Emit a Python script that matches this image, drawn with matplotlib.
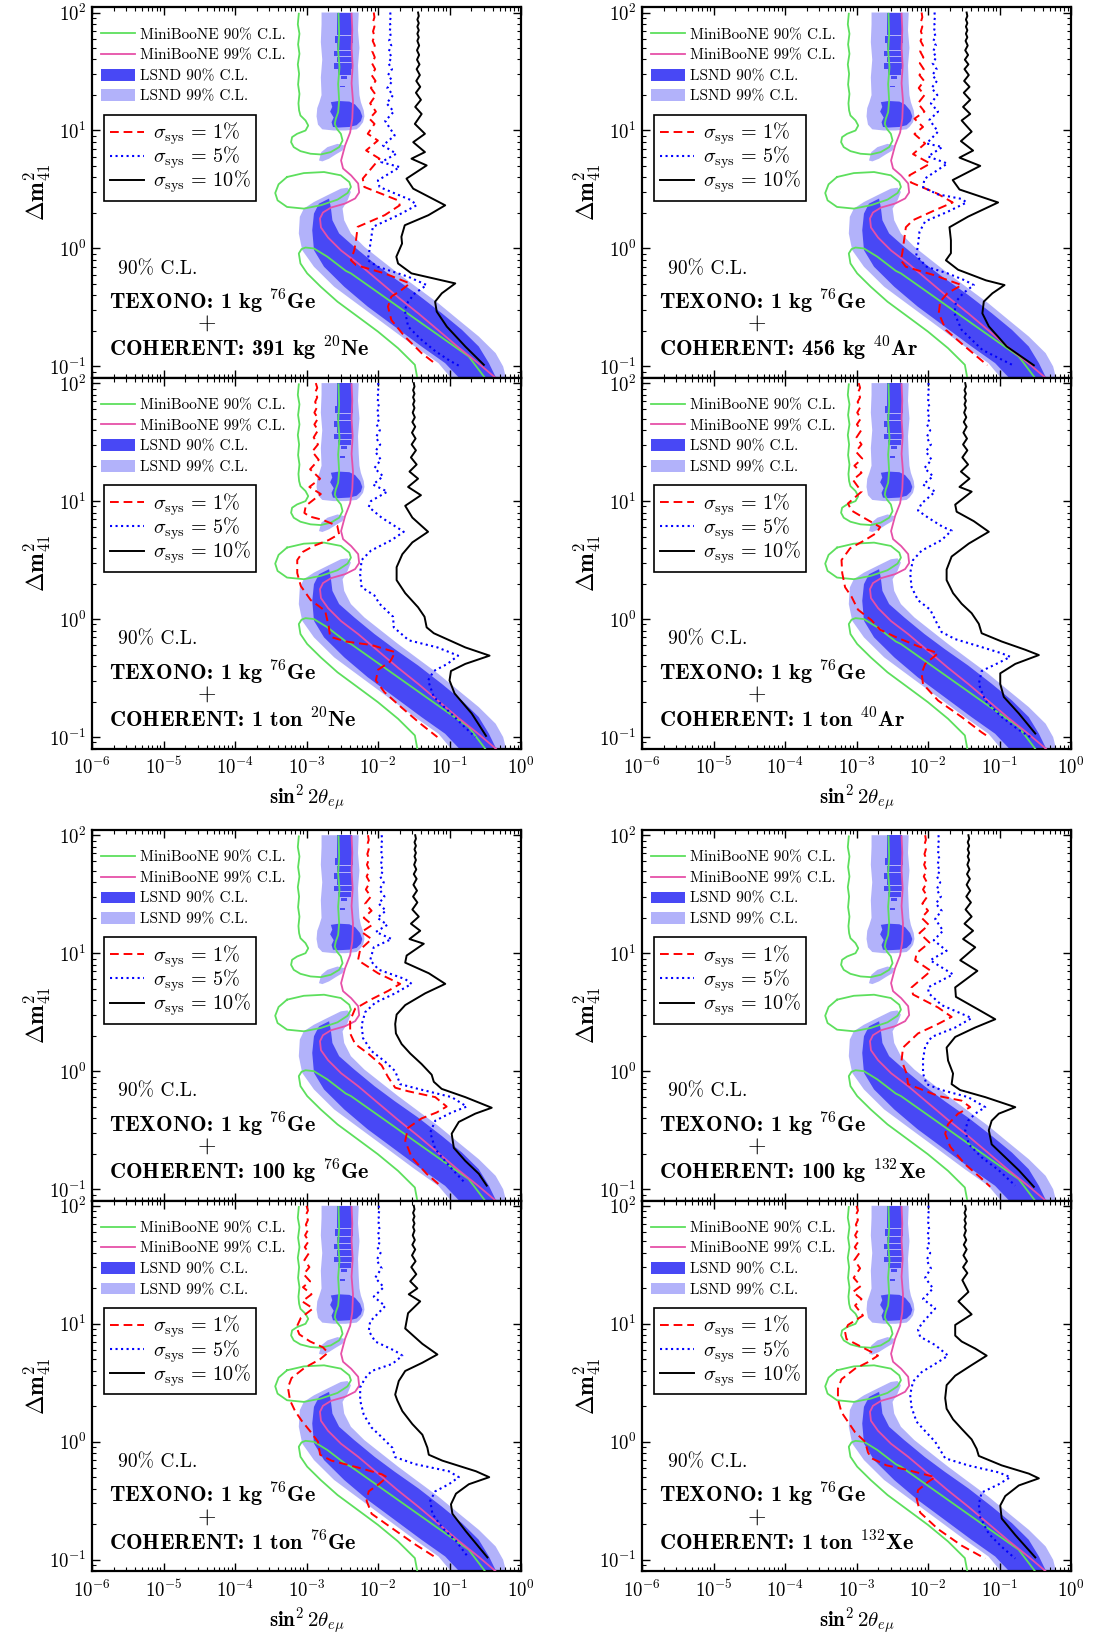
import numpy as np
import matplotlib.pyplot as plt
from matplotlib.lines import Line2D
from matplotlib.patches import Patch
from matplotlib.ticker import LogLocator, NullFormatter

plt.rcParams['font.family'] = 'cmr10'
plt.rcParams['mathtext.fontset'] = 'cm'
plt.rcParams['axes.unicode_minus'] = False
plt.rcParams['axes.formatter.use_mathtext'] = True

# All contours are given as (log10 sin^2 2theta, log10 dm^2) pairs.

# MiniBooNE 90% C.L. contour pieces
mb90_upper = [(-3.108, 1.99), (-3.122, 1.90), (-3.099, 1.82), (-3.118, 1.73), (-3.099, 1.65),
              (-3.122, 1.56), (-3.104, 1.48), (-3.118, 1.39), (-3.099, 1.31), (-3.113, 1.23),
              (-3.104, 1.17), (-3.085, 1.127), (-3.014, 1.085), (-2.976, 1.042), (-3.014, 1.0),
              (-3.132, 0.972), (-3.202, 0.944), (-3.216, 0.901), (-3.179, 0.859), (-3.085, 0.825),
              (-2.944, 0.803), (-2.802, 0.797), (-2.661, 0.817), (-2.544, 0.859), (-2.496, 0.915),
              (-2.520, 0.972), (-2.576, 1.014), (-2.605, 1.056), (-2.591, 1.099), (-2.558, 1.155),
              (-2.544, 1.254), (-2.558, 1.394), (-2.539, 1.535), (-2.558, 1.676), (-2.544, 1.817),
              (-2.553, 1.99)]
mb90_ellipse = [(-3.273, 0.606), (-3.038, 0.639), (-2.755, 0.648), (-2.520, 0.620), (-2.402, 0.563),
                (-2.379, 0.521), (-2.426, 0.470), (-2.567, 0.414), (-2.802, 0.366), (-3.038, 0.338),
                (-3.273, 0.352), (-3.405, 0.408), (-3.438, 0.470), (-3.391, 0.544), (-3.273, 0.606)]
mb90_lower = [(-1.45, -1.10), (-1.485, -0.986), (-1.720, -0.845), (-2.002, -0.704), (-2.285, -0.577),
              (-2.567, -0.451), (-2.802, -0.324), (-2.991, -0.211), (-3.085, -0.127), (-3.108, -0.042),
              (-3.07, -0.005), (-3.014, 0.008), (-2.896, 0.0), (-2.708, -0.070), (-2.45, -0.19),
              (-2.379, -0.211), (-2.049, -0.352), (-1.720, -0.493), (-1.391, -0.634), (-1.061, -0.775),
              (-0.732, -0.915), (-0.50, -1.10)]

# MiniBooNE 99% C.L. contour
mb99 = [(-2.37, 1.99), (-2.36, 1.85), (-2.37, 1.70), (-2.355, 1.55), (-2.37, 1.40), (-2.35, 1.25),
        (-2.36, 1.10), (-2.39, 0.983), (-2.461, 0.873), (-2.517, 0.746), (-2.489, 0.678),
        (-2.376, 0.619), (-2.278, 0.551), (-2.264, 0.475), (-2.320, 0.424), (-2.461, 0.381),
        (-2.657, 0.347), (-2.770, 0.305), (-2.812, 0.254), (-2.798, 0.178), (-2.699, 0.093),
        (-2.517, -0.017), (-2.278, -0.127), (-1.997, -0.271), (-1.716, -0.415), (-1.435, -0.551),
        (-1.154, -0.695), (-0.874, -0.839), (-0.593, -0.975), (-0.35, -1.10)]

# LSND allowed regions
lsnd99_upper = [(-2.79, 2.0), (-2.27, 2.0), (-2.28, 1.85), (-2.26, 1.7), (-2.28, 1.55), (-2.27, 1.4),
                (-2.26, 1.3), (-2.24, 1.24), (-2.20, 1.17), (-2.19, 1.12), (-2.21, 1.07), (-2.26, 1.03),
                (-2.30, 1.01), (-2.45, 1.0), (-2.62, 1.0), (-2.78, 1.01), (-2.84, 1.05), (-2.86, 1.12),
                (-2.85, 1.19), (-2.82, 1.24), (-2.79, 1.3), (-2.80, 1.45), (-2.78, 1.6), (-2.80, 1.75),
                (-2.79, 1.9)]
lsnd99_island = [(-2.826, 0.746), (-2.793, 0.817), (-2.708, 0.859), (-2.567, 0.887), (-2.473, 0.873),
                 (-2.496, 0.831), (-2.591, 0.797), (-2.685, 0.761), (-2.779, 0.738)]
lsnd99_lower = [(-2.426, 0.515), (-2.379, 0.479), (-2.426, 0.408), (-2.496, 0.338), (-2.473, 0.239),
                (-2.379, 0.127), (-2.191, 0.014), (-1.955, -0.099), (-1.720, -0.211), (-1.438, -0.338),
                (-1.155, -0.465), (-0.873, -0.606), (-0.591, -0.746), (-0.355, -0.887), (-0.25, -1.0),
                (-0.20, -1.12), (-0.95, -1.12), (-1.155, -0.972), (-1.485, -0.831), (-1.861, -0.662),
                (-2.238, -0.493), (-2.614, -0.324), (-2.896, -0.155), (-3.061, -0.014), (-3.108, 0.127),
                (-3.094, 0.268), (-3.038, 0.338), (-2.896, 0.394), (-2.708, 0.451), (-2.520, 0.507)]
lsnd90_block = [(-2.66, 1.24), (-2.55, 1.25), (-2.40, 1.245), (-2.32, 1.22), (-2.25, 1.17), (-2.22, 1.12),
                (-2.24, 1.08), (-2.30, 1.045), (-2.40, 1.03), (-2.55, 1.025), (-2.63, 1.03), (-2.65, 1.07),
                (-2.62, 1.11), (-2.67, 1.16), (-2.64, 1.20)]
# striped part of the upper 90% region: (log dm2 low, log dm2 high, log s2 left, log s2 right)
lsnd90_bars = [(1.81, 2.00, -2.57, -2.37), (1.745, 1.803, -2.60, -2.35), (1.685, 1.738, -2.58, -2.36),
               (1.632, 1.678, -2.62, -2.36), (1.577, 1.625, -2.57, -2.37), (1.524, 1.570, -2.61, -2.35),
               (1.474, 1.517, -2.56, -2.38), (1.44, 1.466, -2.52, -2.44), (1.365, 1.38, -2.53, -2.46)]
lsnd90_lower = [(-2.685, 0.423), (-2.661, 0.352), (-2.638, 0.239), (-2.544, 0.127), (-2.332, 0.014),
                (-2.049, -0.127), (-1.767, -0.254), (-1.438, -0.394), (-1.108, -0.549), (-0.826, -0.690),
                (-0.591, -0.831), (-0.449, -0.972), (-0.33, -1.12), (-0.83, -1.12), (-1.061, -0.972),
                (-1.391, -0.831), (-1.767, -0.662), (-2.144, -0.493), (-2.473, -0.324), (-2.755, -0.155),
                (-2.896, -0.014), (-2.920, 0.155), (-2.896, 0.296), (-2.826, 0.380)]

# Sensitivity curves, sigma_sys = 1%, 5%, 10%
ne391_sys1 = [(-2.06, 2.0), (-2.05, 1.96), (-2.07, 1.92), (-2.05, 1.88), (-2.07, 1.84), (-2.05, 1.80),
              (-2.075, 1.76), (-2.045, 1.72), (-2.08, 1.67), (-2.045, 1.62), (-2.085, 1.57), (-2.04, 1.52),
              (-2.09, 1.47), (-2.035, 1.42), (-2.10, 1.36), (-2.03, 1.30), (-2.11, 1.23), (-2.03, 1.16),
              (-2.12, 1.10), (-2.049, 1.056), (-2.144, 0.972), (-2.002, 0.915), (-2.167, 0.831),
              (-1.979, 0.761), (-2.214, 0.592), (-2.191, 0.521), (-1.720, 0.408), (-1.696, 0.366),
              (-1.908, 0.282), (-2.285, 0.183), (-2.308, 0.070), (-2.332, -0.014), (-2.379, -0.099),
              (-2.308, -0.141), (-1.908, -0.211), (-1.555, -0.296), (-1.673, -0.352), (-1.814, -0.408),
              (-1.861, -0.493), (-1.814, -0.606), (-1.626, -0.746), (-1.391, -0.887), (-1.179, -0.986)]
ne391_sys5 = [(-1.83, 2.0), (-1.82, 1.96), (-1.84, 1.92), (-1.82, 1.88), (-1.84, 1.84), (-1.82, 1.80),
              (-1.845, 1.76), (-1.815, 1.72), (-1.85, 1.67), (-1.81, 1.62), (-1.855, 1.57), (-1.805, 1.52),
              (-1.86, 1.47), (-1.80, 1.42), (-1.87, 1.36), (-1.79, 1.30), (-1.88, 1.23), (-1.78, 1.16),
              (-1.90, 1.08), (-1.767, 0.958), (-1.932, 0.873), (-1.744, 0.803), (-1.955, 0.732),
              (-1.696, 0.690), (-2.002, 0.577), (-1.979, 0.521), (-1.532, 0.408), (-1.461, 0.366),
              (-1.720, 0.282), (-2.073, 0.183), (-2.096, 0.085), (-2.120, -0.014), (-2.144, -0.099),
              (-2.002, -0.155), (-1.579, -0.239), (-1.320, -0.310), (-1.485, -0.380), (-1.579, -0.451),
              (-1.626, -0.521), (-1.579, -0.662), (-1.40, -0.77), (-1.20, -0.87), (-1.0, -0.95),
              (-0.85, -1.0)]
ne391_sys10 = [(-1.44, 2.0), (-1.43, 1.97), (-1.45, 1.94), (-1.43, 1.91), (-1.45, 1.88), (-1.43, 1.85),
               (-1.45, 1.82), (-1.43, 1.79), (-1.45, 1.76), (-1.425, 1.72), (-1.455, 1.68), (-1.425, 1.64),
               (-1.455, 1.60), (-1.42, 1.56), (-1.46, 1.52), (-1.415, 1.47), (-1.465, 1.42), (-1.41, 1.37),
               (-1.47, 1.32), (-1.40, 1.26), (-1.48, 1.20), (-1.39, 1.14), (-1.485, 1.056),
               (-1.344, 0.972), (-1.508, 0.901), (-1.344, 0.817), (-1.532, 0.761), (-1.320, 0.704),
               (-1.602, 0.592), (-1.508, 0.507), (-1.061, 0.366), (-1.296, 0.282), (-1.626, 0.197),
               (-1.673, 0.099), (-1.664, 0.042), (-1.744, -0.070), (-1.720, -0.127), (-1.532, -0.211),
               (-0.920, -0.296), (-1.108, -0.380), (-1.202, -0.451), (-1.179, -0.535), (-1.038, -0.662),
               (-0.779, -0.831), (-0.520, -0.986)]

ar456_sys1 = [(-2.09, 2.0), (-2.08, 1.96), (-2.10, 1.92), (-2.08, 1.88), (-2.10, 1.84), (-2.075, 1.80),
              (-2.105, 1.76), (-2.07, 1.72), (-2.11, 1.67), (-2.065, 1.62), (-2.115, 1.57), (-2.06, 1.52),
              (-2.12, 1.47), (-2.055, 1.42), (-2.13, 1.36), (-2.05, 1.30), (-2.14, 1.23), (-2.05, 1.16),
              (-2.19, 1.10), (-2.07, 1.03), (-2.19, 0.97), (-2.04, 0.89), (-2.21, 0.80), (-1.97, 0.72),
              (-2.26, 0.62), (-2.24, 0.56), (-1.87, 0.465), (-1.655, 0.39), (-1.92, 0.32), (-2.21, 0.24),
              (-2.31, 0.18), (-2.335, 0.07), (-2.36, -0.04), (-2.38, -0.10), (-2.31, -0.155),
              (-1.92, -0.225), (-1.53, -0.31), (-1.73, -0.38), (-1.83, -0.45), (-1.85, -0.55),
              (-1.75, -0.69), (-1.485, -0.83), (-1.17, -0.99)]
ar456_sys5 = [(-1.91, 2.0), (-1.90, 1.96), (-1.92, 1.92), (-1.90, 1.88), (-1.92, 1.84), (-1.895, 1.80),
              (-1.925, 1.76), (-1.89, 1.72), (-1.93, 1.67), (-1.885, 1.62), (-1.935, 1.57), (-1.88, 1.52),
              (-1.94, 1.47), (-1.875, 1.42), (-1.95, 1.36), (-1.87, 1.30), (-1.96, 1.23), (-1.86, 1.16),
              (-1.98, 1.09), (-1.86, 0.99), (-2.02, 0.89), (-1.80, 0.86), (-2.0, 0.78), (-1.73, 0.72),
              (-2.05, 0.59), (-2.07, 0.52), (-1.87, 0.46), (-1.53, 0.42), (-1.46, 0.39), (-1.73, 0.31),
              (-2.04, 0.23), (-2.12, 0.14), (-2.14, 0.03), (-2.165, -0.06), (-2.02, -0.155),
              (-1.73, -0.21), (-1.485, -0.27), (-1.36, -0.31), (-1.51, -0.38), (-1.61, -0.45),
              (-1.63, -0.55), (-1.53, -0.69), (-1.24, -0.86), (-0.81, -0.99)]
ar456_sys10 = [(-1.46, 2.0), (-1.45, 1.97), (-1.47, 1.94), (-1.45, 1.91), (-1.47, 1.88), (-1.45, 1.85),
               (-1.47, 1.82), (-1.45, 1.79), (-1.475, 1.76), (-1.445, 1.72), (-1.48, 1.68), (-1.44, 1.64),
               (-1.485, 1.60), (-1.435, 1.56), (-1.49, 1.52), (-1.43, 1.47), (-1.495, 1.42), (-1.42, 1.37),
               (-1.50, 1.32), (-1.41, 1.26), (-1.51, 1.20), (-1.41, 1.14), (-1.53, 1.085), (-1.39, 0.99),
               (-1.54, 0.91), (-1.37, 0.83), (-1.56, 0.77), (-1.27, 0.70), (-1.655, 0.58), (-1.56, 0.50),
               (-1.02, 0.39), (-1.44, 0.27), (-1.70, 0.18), (-1.68, 0.07), (-1.68, -0.04), (-1.75, -0.10),
               (-1.58, -0.18), (-1.19, -0.27), (-0.93, -0.31), (-1.10, -0.38), (-1.22, -0.45),
               (-1.24, -0.55), (-1.15, -0.66), (-0.90, -0.83), (-0.52, -0.99)]

ne1t_sys1 = [(-2.87, 2.0), (-2.85, 1.96), (-2.88, 1.92), (-2.85, 1.88), (-2.88, 1.84), (-2.85, 1.80),
             (-2.89, 1.75), (-2.84, 1.70), (-2.89, 1.65), (-2.84, 1.60), (-2.90, 1.54), (-2.84, 1.48),
             (-2.92, 1.42), (-2.83, 1.35), (-2.95, 1.27), (-2.81, 1.19), (-2.96, 1.12), (-2.80, 1.06),
             (-3.01, 0.96), (-3.03, 0.90), (-2.96, 0.87), (-2.77, 0.84), (-2.57, 0.79), (-2.545, 0.72),
             (-2.69, 0.67), (-2.90, 0.62), (-3.05, 0.57), (-3.13, 0.50), (-3.13, 0.39), (-3.08, 0.28),
             (-3.01, 0.22), (-2.94, 0.16), (-2.74, 0.07), (-2.69, -0.06), (-2.67, -0.15), (-2.45, -0.19),
             (-2.09, -0.22), (-1.76, -0.28), (-1.83, -0.36), (-2.0, -0.43), (-2.03, -0.52),
             (-1.91, -0.62), (-1.67, -0.75), (-1.42, -0.88), (-1.17, -1.0)]
ne1t_sys5 = [(-2.0, 2.0), (-1.99, 1.96), (-2.01, 1.92), (-1.99, 1.88), (-2.01, 1.84), (-1.985, 1.80),
             (-2.015, 1.75), (-1.98, 1.70), (-2.02, 1.65), (-1.975, 1.60), (-2.03, 1.54), (-1.97, 1.48),
             (-2.04, 1.42), (-1.96, 1.35), (-2.05, 1.28), (-1.93, 1.21), (-2.07, 1.14), (-1.87, 1.08),
             (-2.10, 1.0), (-2.13, 0.95), (-1.95, 0.86), (-1.64, 0.74), (-1.81, 0.67), (-2.10, 0.58),
             (-2.23, 0.50), (-2.25, 0.38), (-2.23, 0.27), (-2.05, 0.20), (-1.98, 0.13), (-1.79, 0.02),
             (-1.78, -0.07), (-1.57, -0.18), (-1.17, -0.24), (-0.88, -0.31), (-1.03, -0.38),
             (-1.22, -0.44), (-1.30, -0.52), (-1.22, -0.66), (-0.98, -0.80), (-0.78, -0.92),
             (-0.64, -1.0)]
ne1t_sys10 = [(-1.50, 2.0), (-1.49, 1.97), (-1.51, 1.94), (-1.49, 1.91), (-1.51, 1.88), (-1.49, 1.85),
              (-1.51, 1.82), (-1.49, 1.79), (-1.515, 1.75), (-1.485, 1.71), (-1.52, 1.67), (-1.48, 1.63),
              (-1.525, 1.58), (-1.475, 1.53), (-1.53, 1.48), (-1.47, 1.43), (-1.54, 1.37), (-1.46, 1.31),
              (-1.56, 1.25), (-1.44, 1.19), (-1.58, 1.12), (-1.40, 1.05), (-1.62, 0.96), (-1.52, 0.86),
              (-1.30, 0.74), (-1.52, 0.65), (-1.66, 0.55), (-1.74, 0.44), (-1.74, 0.33), (-1.62, 0.22),
              (-1.44, 0.10), (-1.35, 0.02), (-1.32, -0.07), (-1.22, -0.12), (-0.78, -0.24),
              (-0.44, -0.31), (-0.78, -0.38), (-0.98, -0.44), (-1.0, -0.52), (-0.93, -0.63),
              (-0.69, -0.80), (-0.49, -0.99)]

ar1t_sys1 = [(-2.97, 2.0), (-2.95, 1.96), (-2.98, 1.92), (-2.95, 1.88), (-2.985, 1.84), (-2.945, 1.80),
             (-2.99, 1.75), (-2.94, 1.70), (-2.995, 1.65), (-2.935, 1.60), (-3.0, 1.54), (-2.93, 1.48),
             (-3.01, 1.42), (-2.92, 1.36), (-3.03, 1.30), (-2.93, 1.24), (-3.05, 1.18), (-2.93, 1.08),
             (-3.12, 0.98), (-3.07, 0.92), (-2.93, 0.87), (-2.67, 0.78), (-2.72, 0.73), (-2.88, 0.67),
             (-3.09, 0.60), (-3.21, 0.50), (-3.20, 0.39), (-3.16, 0.27), (-3.07, 0.19), (-2.98, 0.08),
             (-2.79, -0.01), (-2.67, -0.09), (-2.46, -0.15), (-2.14, -0.23), (-1.86, -0.29),
             (-2.04, -0.38), (-2.09, -0.46), (-2.07, -0.55), (-1.86, -0.69), (-1.53, -0.83),
             (-1.25, -0.96), (-1.15, -1.0)]
ar1t_sys5 = [(-1.995, 2.0), (-1.985, 1.96), (-2.005, 1.92), (-1.985, 1.88), (-2.005, 1.84), (-1.98, 1.80),
             (-2.01, 1.75), (-1.975, 1.70), (-2.015, 1.65), (-1.97, 1.60), (-2.02, 1.54), (-1.96, 1.48),
             (-2.03, 1.42), (-1.95, 1.35), (-2.05, 1.28), (-1.93, 1.21), (-2.07, 1.14), (-1.90, 1.08),
             (-2.09, 0.98), (-2.14, 0.92), (-2.0, 0.86), (-1.79, 0.78), (-1.67, 0.75), (-1.81, 0.67),
             (-2.09, 0.58), (-2.21, 0.50), (-2.25, 0.39), (-2.23, 0.27), (-2.14, 0.16), (-1.97, 0.08),
             (-1.88, -0.03), (-1.81, -0.11), (-1.62, -0.17), (-1.29, -0.23), (-0.97, -0.29),
             (-0.85, -0.32), (-1.01, -0.37), (-1.25, -0.44), (-1.29, -0.55), (-1.20, -0.69),
             (-0.97, -0.83), (-0.73, -0.94), (-0.57, -1.0)]
ar1t_sys10 = [(-1.48, 2.0), (-1.47, 1.97), (-1.49, 1.94), (-1.47, 1.91), (-1.49, 1.88), (-1.47, 1.85),
              (-1.49, 1.82), (-1.47, 1.79), (-1.495, 1.75), (-1.465, 1.71), (-1.50, 1.67), (-1.46, 1.63),
              (-1.505, 1.58), (-1.455, 1.53), (-1.51, 1.48), (-1.45, 1.43), (-1.52, 1.37), (-1.44, 1.31),
              (-1.54, 1.25), (-1.42, 1.19), (-1.56, 1.12), (-1.39, 1.08), (-1.62, 0.97), (-1.60, 0.91),
              (-1.36, 0.83), (-1.15, 0.74), (-1.43, 0.64), (-1.67, 0.53), (-1.74, 0.42), (-1.74, 0.33),
              (-1.65, 0.22), (-1.53, 0.13), (-1.39, 0.05), (-1.29, -0.04), (-1.25, -0.12),
              (-0.97, -0.19), (-0.64, -0.26), (-0.45, -0.305), (-0.78, -0.38), (-0.99, -0.46),
              (-0.99, -0.55), (-0.94, -0.66), (-0.73, -0.80), (-0.50, -0.97)]

ge100_sys1 = [(-2.14, 2.0), (-2.13, 1.96), (-2.15, 1.92), (-2.13, 1.88), (-2.15, 1.84), (-2.125, 1.80),
              (-2.155, 1.75), (-2.12, 1.70), (-2.16, 1.65), (-2.115, 1.60), (-2.17, 1.54), (-2.10, 1.48),
              (-2.18, 1.42), (-2.09, 1.36), (-2.20, 1.30), (-2.08, 1.24), (-2.23, 1.18), (-2.09, 1.12),
              (-2.25, 1.03), (-2.28, 0.94), (-2.0, 0.83), (-1.69, 0.74), (-1.86, 0.68), (-2.09, 0.61),
              (-2.32, 0.53), (-2.39, 0.43), (-2.39, 0.32), (-2.32, 0.23), (-2.14, 0.15), (-1.95, 0.05),
              (-1.86, -0.05), (-1.76, -0.14), (-1.58, -0.17), (-1.20, -0.22), (-1.04, -0.30),
              (-1.18, -0.35), (-1.39, -0.40), (-1.58, -0.48), (-1.62, -0.59), (-1.53, -0.73),
              (-1.32, -0.87), (-1.11, -0.98)]
ge100_sys5 = [(-1.95, 2.0), (-1.94, 1.96), (-1.96, 1.92), (-1.94, 1.88), (-1.96, 1.84), (-1.935, 1.80),
              (-1.965, 1.75), (-1.93, 1.70), (-1.97, 1.65), (-1.92, 1.60), (-1.98, 1.54), (-1.91, 1.48),
              (-1.99, 1.42), (-1.89, 1.36), (-2.01, 1.30), (-1.87, 1.24), (-2.03, 1.18), (-1.81, 1.12),
              (-2.06, 1.05), (-2.11, 0.94), (-1.99, 0.86), (-1.62, 0.78), (-1.53, 0.74), (-1.76, 0.66),
              (-2.04, 0.58), (-2.18, 0.50), (-2.23, 0.39), (-2.21, 0.28), (-2.09, 0.17), (-1.90, 0.08),
              (-1.76, 0.0), (-1.69, -0.11), (-1.44, -0.15), (-0.97, -0.22), (-0.76, -0.30),
              (-0.97, -0.35), (-1.20, -0.42), (-1.27, -0.52), (-1.20, -0.66), (-1.01, -0.80),
              (-0.78, -0.95)]
ge100_sys10 = [(-1.48, 2.0), (-1.47, 1.97), (-1.49, 1.94), (-1.47, 1.91), (-1.49, 1.88), (-1.47, 1.85),
               (-1.49, 1.82), (-1.47, 1.79), (-1.495, 1.75), (-1.465, 1.71), (-1.50, 1.67), (-1.46, 1.63),
               (-1.505, 1.58), (-1.455, 1.53), (-1.51, 1.48), (-1.45, 1.43), (-1.52, 1.37), (-1.43, 1.31),
               (-1.54, 1.25), (-1.41, 1.19), (-1.56, 1.12), (-1.36, 1.08), (-1.60, 0.98), (-1.62, 0.92),
               (-1.29, 0.83), (-1.06, 0.74), (-1.34, 0.66), (-1.62, 0.56), (-1.74, 0.48), (-1.76, 0.40),
               (-1.75, 0.32), (-1.67, 0.23), (-1.55, 0.15), (-1.39, 0.06), (-1.25, -0.03),
               (-1.22, -0.09), (-1.11, -0.15), (-0.78, -0.22), (-0.41, -0.31), (-0.64, -0.36),
               (-0.87, -0.43), (-0.97, -0.53), (-0.94, -0.65), (-0.78, -0.76), (-0.59, -0.87),
               (-0.48, -0.97)]

xe100_sys1 = [(-2.04, 2.0), (-2.03, 1.96), (-2.05, 1.92), (-2.03, 1.88), (-2.05, 1.84), (-2.025, 1.80),
              (-2.055, 1.75), (-2.02, 1.70), (-2.06, 1.65), (-2.015, 1.60), (-2.07, 1.54), (-2.01, 1.48),
              (-2.08, 1.42), (-2.0, 1.36), (-2.09, 1.30), (-1.99, 1.24), (-2.12, 1.17), (-1.98, 1.09),
              (-2.16, 1.0), (-2.18, 0.94), (-1.96, 0.85), (-2.23, 0.71), (-2.21, 0.65), (-1.86, 0.54),
              (-1.67, 0.46), (-1.86, 0.40), (-2.14, 0.32), (-2.35, 0.20), (-2.37, 0.09), (-2.30, -0.02),
              (-2.28, -0.11), (-1.86, -0.21), (-1.53, -0.25), (-1.41, -0.305), (-1.58, -0.36),
              (-1.72, -0.45), (-1.76, -0.53), (-1.69, -0.64), (-1.48, -0.79), (-1.27, -0.90),
              (-1.13, -0.98)]
xe100_sys5 = [(-1.855, 2.0), (-1.845, 1.96), (-1.865, 1.92), (-1.845, 1.88), (-1.865, 1.84), (-1.84, 1.80),
              (-1.87, 1.75), (-1.835, 1.70), (-1.875, 1.65), (-1.83, 1.60), (-1.88, 1.54), (-1.82, 1.48),
              (-1.89, 1.42), (-1.81, 1.36), (-1.90, 1.29), (-1.79, 1.19), (-1.92, 1.11), (-1.74, 1.02),
              (-1.97, 0.94), (-1.65, 0.82), (-2.0, 0.71), (-1.99, 0.66), (-1.81, 0.56), (-1.39, 0.45),
              (-1.62, 0.37), (-1.95, 0.29), (-2.04, 0.21), (-2.07, 0.10), (-2.07, -0.02), (-2.02, -0.11),
              (-1.81, -0.16), (-1.44, -0.22), (-1.20, -0.305), (-1.34, -0.36), (-1.44, -0.42),
              (-1.48, -0.50), (-1.43, -0.62), (-1.25, -0.73), (-1.01, -0.84), (-0.78, -0.97)]
xe100_sys10 = [(-1.435, 2.0), (-1.425, 1.97), (-1.445, 1.94), (-1.425, 1.91), (-1.445, 1.88),
               (-1.425, 1.85), (-1.445, 1.82), (-1.425, 1.79), (-1.45, 1.75), (-1.42, 1.71),
               (-1.455, 1.67), (-1.415, 1.63), (-1.46, 1.58), (-1.41, 1.53), (-1.465, 1.48), (-1.40, 1.43),
               (-1.475, 1.37), (-1.39, 1.31), (-1.49, 1.25), (-1.37, 1.19), (-1.51, 1.12), (-1.34, 1.05),
               (-1.55, 0.94), (-1.31, 0.85), (-1.62, 0.71), (-1.61, 0.63), (-1.29, 0.52), (-1.06, 0.44),
               (-1.34, 0.37), (-1.62, 0.29), (-1.74, 0.20), (-1.72, 0.09), (-1.65, -0.02),
               (-1.67, -0.11), (-1.55, -0.16), (-1.20, -0.22), (-0.78, -0.305), (-1.01, -0.36),
               (-1.11, -0.42), (-1.15, -0.50), (-1.11, -0.62), (-0.92, -0.73), (-0.73, -0.84),
               (-0.52, -0.98)]

ge1t_sys1 = [(-3.0, 2.0), (-2.98, 1.96), (-3.01, 1.92), (-2.98, 1.88), (-3.01, 1.84), (-2.975, 1.80),
             (-3.02, 1.75), (-2.97, 1.70), (-3.025, 1.65), (-2.965, 1.60), (-3.03, 1.54), (-2.96, 1.48),
             (-3.04, 1.42), (-2.95, 1.36), (-3.05, 1.31), (-2.93, 1.25), (-3.06, 1.19), (-2.91, 1.13),
             (-3.08, 1.05), (-3.14, 0.97), (-3.10, 0.91), (-2.95, 0.85), (-2.77, 0.80), (-2.70, 0.755),
             (-2.81, 0.70), (-3.02, 0.63), (-3.21, 0.54), (-3.26, 0.46), (-3.23, 0.35), (-3.16, 0.26),
             (-3.07, 0.18), (-2.95, 0.09), (-2.84, 0.0), (-2.81, -0.11), (-2.65, -0.16), (-2.27, -0.22),
             (-1.95, -0.275), (-1.875, -0.30), (-1.99, -0.36), (-2.13, -0.42), (-2.16, -0.50),
             (-2.09, -0.61), (-1.81, -0.73), (-1.48, -0.87), (-1.17, -0.99)]
ge1t_sys5 = [(-1.99, 2.0), (-1.98, 1.96), (-2.0, 1.92), (-1.98, 1.88), (-2.0, 1.84), (-1.975, 1.80),
             (-2.005, 1.75), (-1.97, 1.70), (-2.01, 1.65), (-1.965, 1.60), (-2.02, 1.54), (-1.95, 1.47),
             (-2.04, 1.39), (-1.92, 1.31), (-2.06, 1.23), (-1.90, 1.15), (-2.11, 1.02), (-2.13, 0.94),
             (-2.04, 0.85), (-1.76, 0.77), (-1.66, 0.73), (-1.80, 0.66), (-2.09, 0.60), (-2.18, 0.54),
             (-2.25, 0.46), (-2.25, 0.35), (-2.20, 0.23), (-2.09, 0.12), (-1.95, 0.04), (-1.80, -0.05),
             (-1.76, -0.13), (-1.48, -0.19), (-1.01, -0.25), (-0.87, -0.30), (-1.01, -0.36),
             (-1.20, -0.42), (-1.27, -0.50), (-1.24, -0.61), (-1.10, -0.73), (-0.91, -0.84),
             (-0.75, -0.97)]
ge1t_sys10 = [(-1.50, 2.0), (-1.49, 1.97), (-1.51, 1.94), (-1.49, 1.91), (-1.51, 1.88), (-1.49, 1.85),
              (-1.51, 1.82), (-1.49, 1.79), (-1.515, 1.75), (-1.485, 1.71), (-1.52, 1.67), (-1.48, 1.63),
              (-1.525, 1.58), (-1.475, 1.53), (-1.535, 1.48), (-1.465, 1.42), (-1.55, 1.36), (-1.45, 1.30),
              (-1.57, 1.25), (-1.41, 1.19), (-1.58, 1.09), (-1.62, 0.96), (-1.38, 0.83), (-1.17, 0.74),
              (-1.38, 0.67), (-1.62, 0.60), (-1.71, 0.515), (-1.76, 0.40), (-1.73, 0.35), (-1.66, 0.26),
              (-1.52, 0.15), (-1.38, 0.06), (-1.31, -0.05), (-1.29, -0.11), (-1.10, -0.16),
              (-0.63, -0.25), (-0.445, -0.30), (-0.73, -0.36), (-0.91, -0.44), (-0.98, -0.53),
              (-0.96, -0.61), (-0.77, -0.76), (-0.47, -0.98)]

xe1t_sys1 = [(-3.0, 2.0), (-2.98, 1.96), (-3.01, 1.92), (-2.98, 1.88), (-3.01, 1.84), (-2.975, 1.80),
             (-3.02, 1.75), (-2.97, 1.70), (-3.025, 1.65), (-2.96, 1.60), (-3.03, 1.54), (-2.95, 1.47),
             (-3.04, 1.39), (-2.94, 1.32), (-3.05, 1.27), (-2.93, 1.21), (-3.02, 1.155), (-2.91, 1.07),
             (-3.12, 0.99), (-3.16, 0.93), (-3.14, 0.87), (-2.98, 0.82), (-2.79, 0.76), (-2.70, 0.73),
             (-2.84, 0.675), (-3.02, 0.62), (-3.21, 0.53), (-3.26, 0.45), (-3.26, 0.36), (-3.21, 0.25),
             (-3.12, 0.17), (-3.02, 0.08), (-2.88, 0.0), (-2.84, -0.09), (-2.79, -0.14), (-2.58, -0.20),
             (-2.28, -0.24), (-1.90, -0.30), (-2.0, -0.34), (-2.14, -0.41), (-2.16, -0.48),
             (-2.11, -0.60), (-1.86, -0.74), (-1.53, -0.88), (-1.20, -0.99)]
xe1t_sys5 = [(-1.995, 2.0), (-1.985, 1.96), (-2.005, 1.92), (-1.985, 1.88), (-2.005, 1.84), (-1.98, 1.80),
             (-2.01, 1.75), (-1.975, 1.70), (-2.015, 1.65), (-1.97, 1.60), (-2.02, 1.54), (-1.96, 1.47),
             (-2.04, 1.39), (-1.93, 1.30), (-2.07, 1.21), (-1.90, 1.13), (-2.09, 1.0), (-2.14, 0.95),
             (-2.11, 0.89), (-1.90, 0.82), (-1.72, 0.73), (-1.86, 0.675), (-2.09, 0.59), (-2.21, 0.51),
             (-2.25, 0.40), (-2.23, 0.29), (-2.16, 0.17), (-2.04, 0.09), (-1.90, 0.0), (-1.81, -0.09),
             (-1.76, -0.14), (-1.44, -0.20), (-1.01, -0.26), (-0.85, -0.30), (-1.01, -0.36),
             (-1.25, -0.43), (-1.29, -0.53), (-1.27, -0.64), (-1.15, -0.78), (-0.97, -0.89),
             (-0.78, -0.99)]
xe1t_sys10 = [(-1.48, 2.0), (-1.47, 1.97), (-1.49, 1.94), (-1.47, 1.91), (-1.49, 1.88), (-1.47, 1.85),
              (-1.49, 1.82), (-1.47, 1.79), (-1.495, 1.75), (-1.465, 1.71), (-1.50, 1.67), (-1.46, 1.63),
              (-1.505, 1.58), (-1.455, 1.53), (-1.51, 1.48), (-1.45, 1.43), (-1.52, 1.37), (-1.435, 1.27),
              (-1.575, 1.19), (-1.39, 1.08), (-1.62, 0.99), (-1.62, 0.90), (-1.53, 0.85), (-1.34, 0.79),
              (-1.18, 0.73), (-1.39, 0.65), (-1.62, 0.56), (-1.74, 0.48), (-1.76, 0.37), (-1.74, 0.28),
              (-1.65, 0.19), (-1.53, 0.11), (-1.39, 0.02), (-1.32, -0.06), (-1.29, -0.12),
              (-0.97, -0.20), (-0.59, -0.27), (-0.45, -0.31), (-0.73, -0.37), (-0.92, -0.46),
              (-0.99, -0.54), (-0.97, -0.65), (-0.78, -0.79), (-0.50, -0.98)]

# COHERENT target for each panel: exposure, mass number, element
targets = [('391 kg', '20', 'Ne'), ('456 kg', '40', 'Ar'),
           ('1 ton', '20', 'Ne'), ('1 ton', '40', 'Ar'),
           ('100 kg', '76', 'Ge'), ('100 kg', '132', 'Xe'),
           ('1 ton', '76', 'Ge'), ('1 ton', '132', 'Xe')]
sys_curves = [(ne391_sys1, ne391_sys5, ne391_sys10), (ar456_sys1, ar456_sys5, ar456_sys10),
              (ne1t_sys1, ne1t_sys5, ne1t_sys10), (ar1t_sys1, ar1t_sys5, ar1t_sys10),
              (ge100_sys1, ge100_sys5, ge100_sys10), (xe100_sys1, xe100_sys5, xe100_sys10),
              (ge1t_sys1, ge1t_sys5, ge1t_sys10), (xe1t_sys1, xe1t_sys5, xe1t_sys10)]

GREEN = '#5ddf5d'
PINK = '#e650a8'
LSND_DARK = '#4848f5'
LSND_LIGHT = '#b2b2fa'


def xy(points):
    arr = np.power(10.0, np.asarray(points, dtype=float))
    return arr[:, 0], arr[:, 1]


def draw_background(ax):
    for poly in (lsnd99_upper, lsnd99_island, lsnd99_lower):
        ax.fill(*xy(poly), color=LSND_LIGHT, lw=0, zorder=1)
    for poly in (lsnd90_block, lsnd90_lower):
        ax.fill(*xy(poly), color=LSND_DARK, lw=0, zorder=2)
    for lo, hi, left, right in lsnd90_bars:
        ax.fill(*xy([(left, lo), (right, lo), (right, hi), (left, hi)]),
                color=LSND_DARK, lw=0, zorder=2)
    for line in (mb90_upper, mb90_ellipse, mb90_lower):
        ax.plot(*xy(line), color=GREEN, lw=1.3, zorder=3)
    ax.plot(*xy(mb99), color=PINK, lw=1.3, zorder=3)


def style_axes(ax, show_xlabels):
    ax.set_xscale('log')
    ax.set_yscale('log')
    ax.set_xlim(1e-6, 1.0)
    ax.set_ylim(0.080, 110.7)
    ax.xaxis.set_major_locator(LogLocator(base=10, numticks=10))
    ax.xaxis.set_minor_locator(LogLocator(base=10, subs=np.arange(2, 10), numticks=20))
    ax.yaxis.set_major_locator(LogLocator(base=10, numticks=10))
    ax.yaxis.set_minor_locator(LogLocator(base=10, subs=np.arange(2, 10), numticks=20))
    ax.xaxis.set_minor_formatter(NullFormatter())
    ax.yaxis.set_minor_formatter(NullFormatter())
    ax.tick_params(which='both', direction='in', top=True, right=True, labelsize=13.5)
    ax.tick_params(which='major', length=6, width=1.0)
    ax.tick_params(which='minor', length=3, width=0.8)
    ax.tick_params(axis='x', pad=6)
    ax.tick_params(axis='y', pad=4)
    for sp in ax.spines.values():
        sp.set_linewidth(1.6)
    if not show_xlabels:
        ax.tick_params(axis='x', labelbottom=False)
    else:
        ax.set_xlabel(r'$\mathbf{sin^2\,2}\theta_{e\mu}$', fontsize=15)
        ax.xaxis.set_label_coords(0.5, -0.093)
    ax.set_ylabel(r'$\mathbf{\Delta m^2_{41}}$', fontsize=17)
    ax.yaxis.set_label_coords(-0.092, 0.5)


fig = plt.figure(figsize=(10.93, 16.37), dpi=100)

col_x = [0.0842, 0.5874]
row_y = [0.76915, 0.54276, 0.26659, 0.04020]
panel_w, panel_h = 0.3925, 0.22639

bg_handles = [Line2D([], [], color=GREEN, lw=1.3), Line2D([], [], color=PINK, lw=1.3),
              Patch(facecolor=LSND_DARK, edgecolor='none'), Patch(facecolor=LSND_LIGHT, edgecolor='none')]
bg_labels = ['MiniBooNE 90% C.L.', 'MiniBooNE 99% C.L.', 'LSND 90% C.L.', 'LSND 99% C.L.']
sys_labels = [r'$\sigma_{\rm sys}\,=\,1\%$', r'$\sigma_{\rm sys}\,=\,5\%$', r'$\sigma_{\rm sys}\,=\,10\%$']

for i, ((mass, anum, elem), (s1, s5, s10)) in enumerate(zip(targets, sys_curves)):
    row, col = divmod(i, 2)
    ax = fig.add_axes([col_x[col], row_y[row], panel_w, panel_h])
    draw_background(ax)

    h1, = ax.plot(*xy(s1), color='red', ls=(0, (4.5, 2.5)), lw=1.4, zorder=4)
    h5, = ax.plot(*xy(s5), color='blue', ls=':', lw=1.5, zorder=4)
    h10, = ax.plot(*xy(s10), color='black', ls='-', lw=1.4, zorder=4)

    style_axes(ax, show_xlabels=(row in (1, 3)))

    leg1 = ax.legend(bg_handles, bg_labels, loc='upper left', bbox_to_anchor=(0.022, 0.945),
                     frameon=False, fontsize=11, handlelength=2.2, handleheight=0.8,
                     handletextpad=0.3, labelspacing=0.42, borderpad=0, borderaxespad=0)
    ax.add_artist(leg1)
    leg2 = ax.legend([h1, h5, h10], sys_labels,
                     loc='upper left', bbox_to_anchor=(0.028, 0.71), frameon=True, fancybox=False,
                     edgecolor='black', framealpha=1, fontsize=14.5, handlelength=1.7,
                     handletextpad=0.45, labelspacing=-0.12, borderpad=0.28, borderaxespad=0)
    leg2.get_frame().set_linewidth(1.2)

    ax.text(0.06, 0.294, '90% C.L.', transform=ax.transAxes, fontsize=14, va='center', zorder=6)
    ax.text(0.04, 0.205, r'TEXONO: 1 kg ${}^{\mathbf{76}}$Ge', transform=ax.transAxes,
            family='cmb10', fontsize=16, va='center', zorder=6)
    ax.text(0.268, 0.143, '+', transform=ax.transAxes, fontsize=17, ha='center', va='center', zorder=6)
    ax.text(0.04, 0.078, r'COHERENT: %s ${}^{\mathbf{%s}}$%s' % (mass, anum, elem),
            transform=ax.transAxes, family='cmb10', fontsize=16, va='center', zorder=6)

fig.savefig('out.png', dpi=100)
